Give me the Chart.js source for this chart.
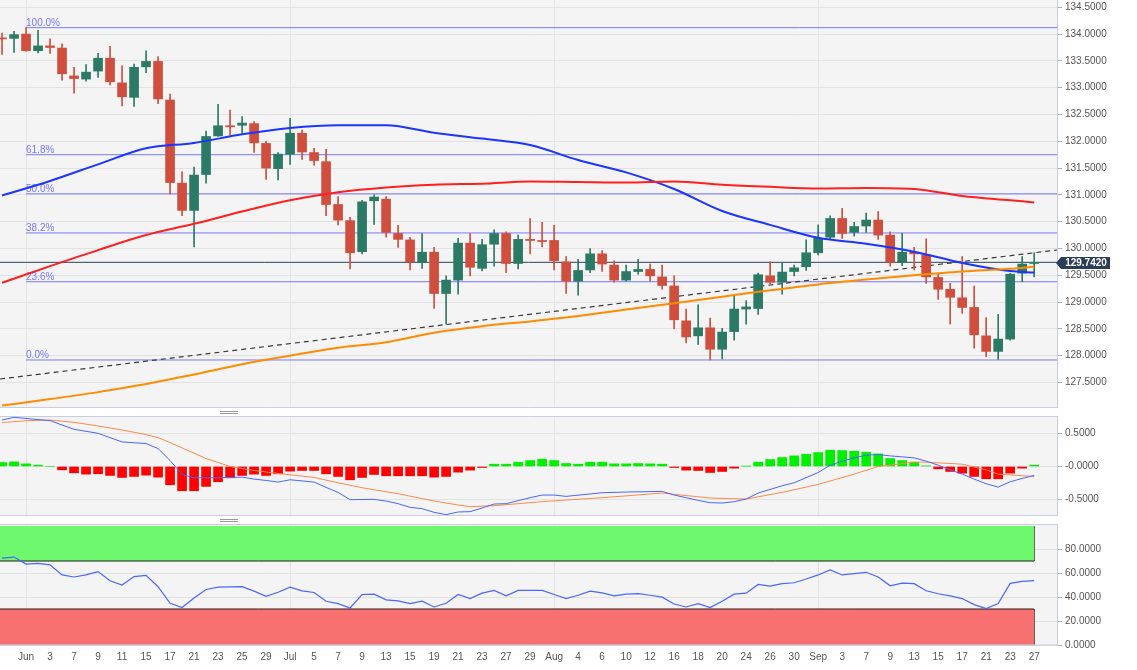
<!DOCTYPE html>
<html>
<head>
<meta charset="utf-8">
<title>USD/JPY daily</title>
<script src="https://cdn.jsdelivr.net/npm/chart.js@4.4.1/dist/chart.umd.min.js"></script>
<style>
  html, body { margin: 0; padding: 0; background: #fff; }
  #wrap { position: relative; width: 1137px; height: 670px; overflow: hidden; }
  #wrap canvas { position: absolute; left: 0; }
  .grip { position: absolute; left: 220px; width: 18px; height: 1px; border-top: 1px solid #9a9a9a; border-bottom: 1px solid #9a9a9a; }
</style>
</head>
<body>
<div id="wrap">
  <canvas id="priceChart" width="1137" height="408" style="top:0"></canvas>
  <div class="grip" style="top:411px"></div>
  <canvas id="macdChart" width="1137" height="100" style="top:416px"></canvas>
  <div class="grip" style="top:519px"></div>
  <canvas id="rsiChart" width="1137" height="146" style="top:524px"></canvas>
</div>
<script>
// trading days shown (one candle each)
const mayDays = [28, 31];
const junDays = [1, 2, 3, 4, 7, 8, 9, 10, 11, 14, 15, 16, 17, 18, 21, 22, 23, 24, 25, 28, 29, 30];
const julDays = [1, 2, 5, 6, 7, 8, 9, 12, 13, 14, 15, 16, 19, 20, 21, 22, 23, 26, 27, 28, 29, 30];
const augDays = [2, 3, 4, 5, 6, 9, 10, 11, 12, 13, 16, 17, 18, 19, 20, 23, 24, 25, 26, 27, 30, 31];
const sepDays = [1, 2, 3, 6, 7, 8, 9, 10, 13, 14, 15, 16, 17, 20, 21, 22, 23, 24, 27];
const monthNames = ["May", "Jun", "Jul", "Aug", "Sep"];

// candles
const openP = [133.92, 133.92, 134.00, 133.69, 133.78, 133.74, 133.22, 133.16, 133.31, 133.55,
  133.09, 132.82, 133.39, 133.49, 132.77, 131.22, 130.71, 131.38, 132.10, 132.29,
  132.30, 132.33, 131.96, 131.49, 131.76, 132.15, 131.79, 131.62, 130.82, 130.52,
  129.94, 130.89, 130.92, 130.28, 130.16, 129.74, 129.93, 129.16, 129.41, 130.10,
  129.63, 130.08, 130.28, 129.72, 130.17, 130.15, 130.15, 129.75, 129.39, 129.60,
  129.90, 129.69, 129.41, 129.57, 129.61, 129.47, 129.30, 128.65, 128.37, 128.52,
  128.12, 128.45, 128.87, 128.88, 129.49, 129.37, 129.57, 129.66, 129.92, 130.21,
  130.56, 130.30, 130.42, 130.53, 130.25, 129.74, 129.93, 129.88, 129.46, 129.24,
  129.08, 128.90, 128.37, 128.08, 128.31, 129.54, 129.72];
const highP = [134.02, 134.05, 134.12, 134.07, 133.91, 133.82, 133.38, 133.43, 133.64, 133.77,
  133.41, 133.44, 133.69, 133.58, 132.88, 131.43, 131.52, 132.19, 132.69, 132.58,
  132.46, 132.37, 132.00, 131.79, 132.43, 132.21, 131.87, 131.85, 130.97, 130.58,
  130.90, 131.00, 130.97, 130.43, 130.21, 130.28, 130.02, 129.49, 130.19, 130.28,
  130.17, 130.35, 130.31, 130.25, 130.56, 130.49, 130.43, 129.85, 129.80, 130.00,
  129.96, 129.77, 129.69, 129.80, 129.71, 129.69, 129.49, 128.87, 128.95, 128.70,
  128.51, 129.13, 129.03, 129.54, 129.75, 129.74, 129.69, 130.16, 130.44, 130.61,
  130.75, 130.49, 130.66, 130.69, 130.31, 130.28, 130.02, 130.18, 129.54, 129.35,
  129.85, 129.30, 128.71, 128.77, 129.54, 129.85, 129.92];
const lowP = [133.62, 133.66, 133.68, 133.65, 133.64, 133.14, 132.90, 133.12, 133.19, 133.05,
  132.66, 132.65, 133.28, 132.70, 131.02, 130.61, 130.03, 131.22, 132.09, 132.12,
  132.15, 131.79, 131.29, 131.28, 131.57, 131.66, 131.55, 130.61, 130.44, 129.62,
  129.90, 130.45, 130.21, 130.02, 129.60, 129.63, 128.88, 128.59, 129.15, 129.49,
  129.58, 129.67, 129.55, 129.62, 129.90, 130.03, 129.60, 129.16, 129.13, 129.55,
  129.57, 129.37, 129.39, 129.52, 129.39, 129.24, 128.50, 128.24, 128.21, 127.92,
  127.94, 128.29, 128.59, 128.77, 129.34, 129.15, 129.49, 129.59, 129.88, 130.17,
  130.19, 130.23, 130.30, 130.17, 129.67, 129.68, 129.60, 129.35, 129.05, 128.59,
  128.79, 128.14, 127.98, 127.93, 128.29, 129.38, 129.47];
const closeP = [133.91, 133.99, 133.69, 133.78, 133.75, 133.26, 133.17, 133.29, 133.55, 133.11,
  132.83, 133.38, 133.49, 132.79, 131.23, 130.71, 131.37, 132.09, 132.29, 132.27,
  132.34, 131.97, 131.50, 131.76, 132.15, 131.80, 131.64, 130.82, 130.53, 129.92,
  130.87, 130.96, 130.30, 130.17, 129.75, 129.93, 129.16, 129.41, 130.10, 129.65,
  130.07, 130.28, 129.72, 130.17, 130.15, 130.13, 129.77, 129.39, 129.59, 129.90,
  129.71, 129.41, 129.57, 129.61, 129.49, 129.31, 128.67, 128.35, 128.52, 128.12,
  128.44, 128.87, 128.91, 129.51, 129.37, 129.56, 129.64, 129.92, 130.19, 130.56,
  130.28, 130.41, 130.53, 130.25, 129.74, 129.93, 129.90, 129.47, 129.24, 129.09,
  128.90, 128.39, 128.08, 128.31, 129.52, 129.71, 129.742];

// moving averages, read every few candles
const maIdx = [0, 4, 8, 12, 16, 20, 24, 28, 32, 36, 40, 44, 48, 52, 56, 60, 64, 68, 72, 76, 80, 84, 86];
const smaBlue = [130.99, 131.26, 131.57, 131.87, 131.97, 132.13, 132.25, 132.30, 132.30, 132.16, 132.05, 131.93,
  131.65, 131.42, 131.11, 130.70, 130.44, 130.20, 130.09, 129.94, 129.73, 129.58, 129.55];
const smaRed = [129.36, 129.67, 129.97, 130.25, 130.46, 130.69, 130.90, 131.05, 131.14, 131.19, 131.21, 131.25,
  131.24, 131.23, 131.25, 131.19, 131.15, 131.12, 131.13, 131.11, 130.98, 130.90, 130.86];
const smaOrange = [127.07, 127.19, 127.32, 127.47, 127.65, 127.84, 128.00, 128.15, 128.25, 128.43, 128.55, 128.64,
  128.74, 128.86, 128.98, 129.10, 129.22, 129.33, 129.42, 129.50, 129.57, 129.62, 129.66];

// fibonacci retracement and trend line
const fibNames = ["100.0%", "61.8%", "50.0%", "38.2%", "23.6%", "0.0%"];
const fibLevels = [134.12, 131.75, 131.02, 130.29, 129.38, 127.92];
const fibStart = 2;
const trendIdx = [-0.17, 87.9];
const trendVal = [127.565, 129.972];
const lastPrice = 129.742;
const priceTicks = [127.5, 128, 128.5, 129, 129.5, 130, 130.5, 131, 131.5, 132, 132.5, 133, 133.5, 134, 134.5];

// MACD
const macdHist = [0.06, 0.07, 0.04, 0.02, 0.0, -0.05, -0.095, -0.115, -0.11, -0.135,
  -0.165, -0.15, -0.13, -0.16, -0.275, -0.365, -0.365, -0.30, -0.23, -0.17,
  -0.135, -0.115, -0.135, -0.11, -0.07, -0.06, -0.06, -0.11, -0.15, -0.20,
  -0.165, -0.12, -0.14, -0.14, -0.14, -0.14, -0.16, -0.15, -0.085, -0.055,
  -0.015, 0.035, 0.035, 0.065, 0.09, 0.11, 0.09, 0.045, 0.035, 0.065,
  0.065, 0.04, 0.04, 0.045, 0.04, 0.035, -0.015, -0.055, -0.06, -0.09,
  -0.075, -0.025, 0.005, 0.065, 0.105, 0.135, 0.16, 0.185, 0.21, 0.245,
  0.24, 0.23, 0.215, 0.19, 0.12, 0.09, 0.065, 0.01, -0.035, -0.075,
  -0.10, -0.15, -0.185, -0.185, -0.10, -0.025, 0.02];
const macdIdx = [0, 1, 4, 6, 8, 10, 12, 13, 14, 15, 16, 18, 20, 21, 22, 23, 24, 26, 27, 28,
  29, 31, 32, 33, 34, 35, 36, 37, 38, 39, 40, 41, 42, 43, 44, 45, 46, 47, 50, 52,
  55, 56, 57, 58, 59, 60, 61, 62, 63, 65, 66, 68, 69, 70, 71, 72, 73, 74, 75, 76,
  77, 78, 79, 80, 81, 82, 83, 84, 85, 86];
const macdLine = [0.70, 0.74, 0.69, 0.56, 0.50, 0.37, 0.345, 0.27, 0.09, -0.12, -0.17, -0.17, -0.16, -0.19, -0.21, -0.235, -0.20, -0.235, -0.315, -0.39,
  -0.50, -0.495, -0.52, -0.56, -0.615, -0.635, -0.69, -0.725, -0.685, -0.68, -0.625, -0.565, -0.56, -0.515, -0.47, -0.43, -0.43, -0.45, -0.395, -0.385,
  -0.375, -0.43, -0.47, -0.51, -0.545, -0.55, -0.53, -0.49, -0.40, -0.29, -0.245, -0.09, 0.02, 0.08, 0.13, 0.17, 0.18, 0.16, 0.145, 0.13,
  0.08, 0.02, -0.05, -0.115, -0.19, -0.26, -0.31, -0.23, -0.18, -0.135];
const sigIdx = [0, 2, 4, 6, 8, 10, 12, 13, 14, 15, 16, 17, 18, 19, 20, 21, 23, 25, 26, 28,
  30, 33, 36, 38, 39, 41, 43, 45, 47, 50, 55, 59, 62, 65, 68, 71, 73, 76, 77, 80,
  82, 83, 86];
const sigLine = [0.66, 0.69, 0.70, 0.665, 0.61, 0.55, 0.48, 0.435, 0.36, 0.28, 0.20, 0.12, 0.06, 0.0, -0.03, -0.06, -0.105, -0.145, -0.165, -0.245,
  -0.32, -0.41, -0.52, -0.58, -0.605, -0.59, -0.56, -0.53, -0.505, -0.47, -0.40, -0.475, -0.49, -0.39, -0.27, -0.115, 0.0, 0.065, 0.065, 0.035,
  -0.05, -0.115, -0.15];
const macdTicks = [-0.5, 0, 0.5];

// RSI
const rsi = [72.4, 73.3, 67.4, 68.0, 66.8, 58.4, 56.7, 58.4, 61.2, 53.6,
  50.0, 57.0, 58.1, 48.6, 34.8, 31.3, 39.2, 46.3, 48.2, 48.5,
  48.6, 44.9, 40.6, 44.0, 48.2, 45.1, 43.8, 36.5, 34.5, 30.9,
  42.1, 42.4, 37.6, 36.8, 34.5, 36.5, 31.7, 34.8, 42.1, 38.7,
  43.2, 45.5, 41.0, 45.5, 45.5, 45.5, 42.1, 38.7, 41.5, 44.9,
  43.5, 41.0, 42.4, 42.9, 41.5, 39.9, 34.2, 31.7, 34.5, 31.2,
  36.5, 42.4, 43.2, 50.5, 49.1, 51.1, 51.9, 55.0, 58.4, 62.6,
  58.4, 59.5, 60.6, 56.7, 49.4, 51.6, 51.1, 45.2, 42.7, 41.0,
  38.7, 33.7, 30.3, 34.5, 51.4, 53.1, 53.6];
const rsiTicks = [0, 20, 40, 60, 80];
const rsiHigh = 70, rsiLow = 30, rsiBandTop = 99.2;

// ---------- setup ----------
Chart.defaults.font.family = '"Liberation Sans", Arial, Helvetica, sans-serif';
Chart.defaults.font.size = 10;
Chart.defaults.color = "#555";
Chart.defaults.animation = false;

const X_MIN = -0.17, X_MAX = 87.9;
const PLOT_BG = "#f4f4f4", GRID = "#e2e2e2", FRAME = "#c8cde3";
const UP = "#2b7a65", DOWN = "#cf4e3d";

const dateLabels = [];
[mayDays, junDays, julDays, augDays, sepDays].forEach((days, m) => {
  days.forEach((d, k) => dateLabels.push(k === 0 ? monthNames[m] : String(d)));
});
const idx = closeP.map((_, i) => i);
const monthStarts = dateLabels.map((l, i) => (isNaN(Number(l)) && i > 0 ? i : -1)).filter(i => i >= 0);
const labelIdx = idx.filter(i => i >= 2 && i % 2 === 0);
const lastIdx = idx[idx.length - 1];

const pts = (xs, ys) => xs.map((x, k) => ({ x: x, y: ys[k] }));

// chart.js shrinks the plot so end labels fit; the panels here run edge to edge
const noPad = s => { s.paddingTop = 0; s.paddingBottom = 0; s.paddingLeft = 0; s.paddingRight = 0; };

const panelFrame = {
  id: "panelFrame",
  beforeDraw(chart) {
    const { ctx, chartArea: a } = chart;
    ctx.save();
    ctx.fillStyle = PLOT_BG;
    ctx.fillRect(a.left, a.top, a.right - a.left, a.bottom - a.top);
    ctx.restore();
  },
  afterDraw(chart, args, opts) {
    const { ctx, chartArea: a } = chart;
    ctx.save();
    ctx.strokeStyle = FRAME;
    ctx.lineWidth = 1;
    ctx.beginPath();
    if (opts.top) { ctx.moveTo(a.left, a.top + 0.5); ctx.lineTo(a.right, a.top + 0.5); }
    ctx.moveTo(a.left, a.bottom - 0.5); ctx.lineTo(a.right, a.bottom - 0.5);
    ctx.stroke();
    ctx.restore();
  }
};

const fibText = {
  id: "fibText",
  beforeDatasetsDraw(chart) {
    const { ctx } = chart;
    const x = chart.scales.x.getPixelForValue(fibStart);
    ctx.save();
    ctx.font = '10px "Liberation Sans", Arial, sans-serif';
    ctx.fillStyle = "rgba(105,105,255,0.9)";
    ctx.textAlign = "left";
    ctx.textBaseline = "alphabetic";
    fibLevels.forEach((v, k) => ctx.fillText(fibNames[k], x, chart.scales.y.getPixelForValue(v) - 2));
    ctx.restore();
  }
};

const priceTag = {
  id: "priceTag",
  afterDraw(chart) {
    const { ctx, chartArea: a } = chart;
    const y = Math.round(chart.scales.y.getPixelForValue(lastPrice)) + 1;
    const x = a.right;
    ctx.save();
    ctx.fillStyle = "#2c3d5a";
    ctx.beginPath();
    ctx.moveTo(x - 1, y);
    ctx.lineTo(x + 4, y - 6);
    ctx.lineTo(x + 53, y - 6);
    ctx.lineTo(x + 53, y + 6);
    ctx.lineTo(x + 4, y + 6);
    ctx.closePath();
    ctx.fill();
    ctx.fillStyle = "#fff";
    ctx.font = 'bold 10px "Liberation Sans", Arial, sans-serif';
    ctx.textAlign = "center";
    ctx.textBaseline = "middle";
    ctx.fillText(lastPrice.toFixed(4), x + 29, y + 0.5);
    ctx.restore();
  }
};

function timeAxis(tickIdx, showLabels) {
  return {
    type: "linear",
    min: X_MIN,
    max: X_MAX,
    offset: false,
    afterBuildTicks: s => { s.ticks = tickIdx.map(v => ({ value: v })); },
    afterFit: s => { s.height = showLabels ? 24.5 : 0; noPad(s); },
    grid: {
      offset: false,
      drawTicks: false,
      color: c => (c.tick && monthStarts.includes(c.tick.value) ? GRID : "rgba(0,0,0,0)")
    },
    border: { display: false },
    ticks: {
      display: showLabels,
      autoSkip: false,
      maxRotation: 0,
      minRotation: 0,
      padding: 6,
      color: "#555",
      callback: v => dateLabels[v]
    }
  };
}

function valueAxis(min, max, tickVals, fmt) {
  return {
    position: "right",
    min: min,
    max: max,
    afterBuildTicks: s => { s.ticks = tickVals.map(v => ({ value: v })); },
    afterFit: s => { s.width = 80; noPad(s); },
    grid: { color: GRID, tickColor: "#a9aec0", tickLength: 5 },
    border: { color: FRAME },
    ticks: { padding: 3, color: "#555", callback: fmt }
  };
}

const baseOptions = (scales, top) => ({
  responsive: false,
  devicePixelRatio: 1,
  animation: false,
  layout: { padding: 0 },
  scales: scales,
  plugins: {
    legend: { display: false },
    tooltip: { enabled: false },
    panelFrame: { top: top }
  }
});

const line = (data, color, width, order, extra) => Object.assign({
  type: "line",
  data: data,
  borderColor: color,
  borderWidth: width,
  pointRadius: 0,
  fill: false,
  order: order
}, extra || {});

// ---------- price panel ----------
const candleColor = idx.map(i => (closeP[i] >= openP[i] ? UP : DOWN));

new Chart(document.getElementById("priceChart"), {
  type: "bar",
  data: {
    datasets: [
      ...fibLevels.map(v => line(pts([fibStart, X_MAX], [v, v]), "rgba(100,100,255,0.85)", 1, 6)),
      line(pts([X_MIN, X_MAX], [lastPrice, lastPrice]), "#2e3f5c", 1, 5),
      line(pts(trendIdx, trendVal), "#3a3a3a", 1.2, 5, { borderDash: [5, 4] }),
      {
        type: "bar",
        data: idx.map(i => ({ x: i, y: [lowP[i], highP[i]] })),
        backgroundColor: candleColor,
        barThickness: 1,
        grouped: false,
        order: 4
      },
      {
        type: "bar",
        data: idx.map(i => ({ x: i, y: [openP[i], closeP[i]] })),
        backgroundColor: candleColor,
        barThickness: 9,
        minBarLength: 1,
        grouped: false,
        order: 3
      },
      line(pts(maIdx, smaOrange), "#ff8c00", 2, 0, { cubicInterpolationMode: "monotone" }),
      line(pts(maIdx, smaRed), "#ff1f1f", 2, 0, { cubicInterpolationMode: "monotone" }),
      line(pts(maIdx, smaBlue), "#1a35ff", 2, 0, { cubicInterpolationMode: "monotone" })
    ]
  },
  options: baseOptions({
    x: timeAxis(monthStarts, false),
    y: valueAxis(127.024, 134.636, priceTicks, v => v.toFixed(4))
  }, false),
  plugins: [panelFrame, fibText, priceTag]
});

// ---------- MACD panel ----------
new Chart(document.getElementById("macdChart"), {
  type: "bar",
  data: {
    datasets: [
      {
        type: "bar",
        data: idx.map(i => ({ x: i, y: macdHist[i] })),
        backgroundColor: macdHist.map(v => (v >= 0 ? "#00f000" : "#ff0000")),
        barThickness: 9,
        grouped: false,
        order: 2
      },
      line(pts(sigIdx, sigLine), "#ff8a4a", 1, 1),
      line(pts(macdIdx, macdLine), "#4a66ff", 1, 0)
    ]
  },
  options: baseOptions({
    x: timeAxis(monthStarts, false),
    y: valueAxis(-0.7455, 0.7605, macdTicks, v => (v === 0 ? "-0.0000" : v.toFixed(4)))
  }, true),
  plugins: [panelFrame]
});

// ---------- RSI panel ----------
new Chart(document.getElementById("rsiChart"), {
  type: "line",
  data: {
    datasets: [
      line(pts([X_MIN, lastIdx], [rsiHigh, rsiHigh]), "#1d1d1d", 1, 2,
        { fill: { value: rsiBandTop }, backgroundColor: "#6ef86e" }),
      line(pts([lastIdx, lastIdx], [rsiHigh, rsiBandTop]), "#1d1d1d", 1, 2),
      line(pts([X_MIN, lastIdx], [rsiLow, rsiLow]), "#2a1a1a", 1, 2,
        { fill: "start", backgroundColor: "#f87070" }),
      line(pts([lastIdx, lastIdx], [-0.4, rsiLow]), "#2a1a1a", 1, 2),
      line(idx.map(i => ({ x: i, y: rsi[i] })), "#4a66ff", 1.2, 0)
    ]
  },
  options: baseOptions({
    x: timeAxis(labelIdx, true),
    y: valueAxis(-0.4, 100.85, rsiTicks, v => v.toFixed(4))
  }, true),
  plugins: [panelFrame]
});
</script>
</body>
</html>
